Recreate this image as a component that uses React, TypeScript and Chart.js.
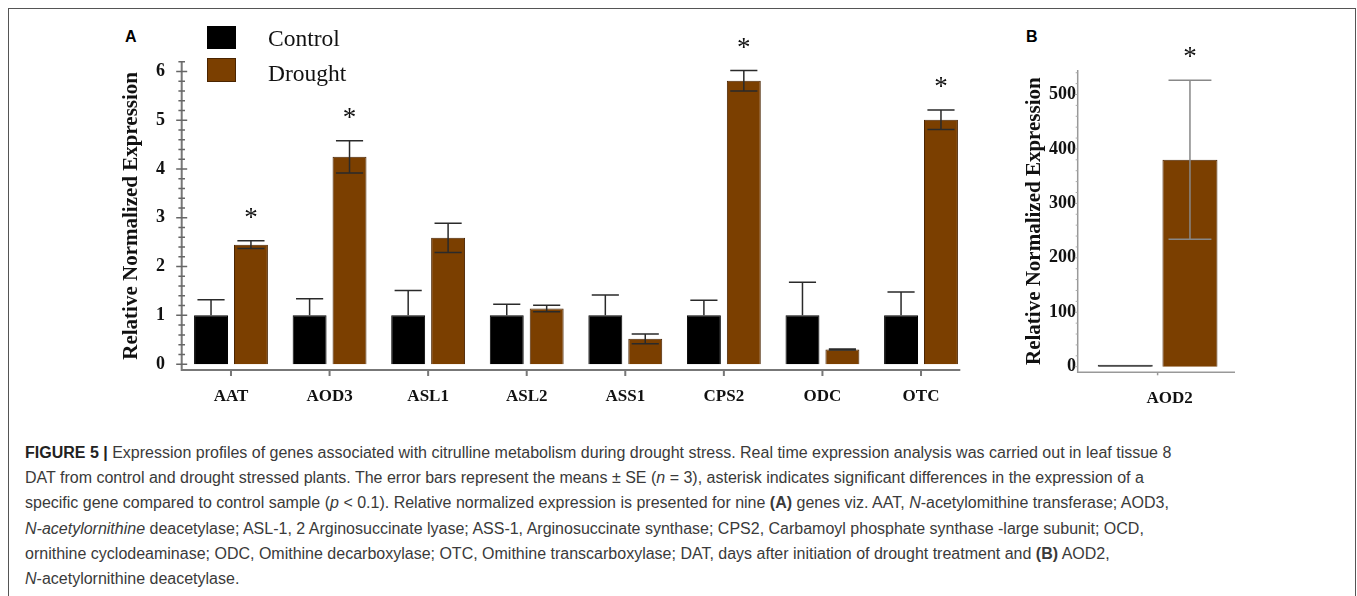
import React, { useEffect, useRef } from "react";
import { Chart, registerables } from "chart.js";

Chart.register(...registerables);

// ---------- data (panel A) ----------
const genesA = ["AAT", "AOD3", "ASL1", "ASL2", "ASS1", "CPS2", "ODC", "OTC"];
const controlA = [1, 1, 1, 1, 1, 1, 1, 1];
const controlErrA = [0.32, 0.34, 0.51, 0.23, 0.42, 0.31, 0.68, 0.48];
const droughtA = [2.45, 4.25, 2.59, 1.14, 0.52, 5.81, 0.3, 5.01];
const droughtErrA = [0.08, 0.33, 0.3, 0.065, 0.1, 0.21, 0.012, 0.2];
const sigA = [true, true, false, false, false, true, false, true];
const yTicksA = [0, 1, 2, 3, 4, 5, 6];

// ---------- data (panel B) ----------
const genesB = ["AOD2"];
const controlB = [1];
const controlErrB = [0];
const droughtB = [380];
const droughtErrB = [146];
const sigB = [true];
const yTicksB = [0, 100, 200, 300, 400, 500];

const seriesNames = ["Control", "Drought"];
const yTitle = "Relative Normalized Expression";

const BROWN = "#7b3f00";
const BROWN_EDGE = "#4a2400";
const SERIF = '"Liberation Serif", "Times New Roman", serif';
const SANS = '"Liberation Sans", Arial, Helvetica, sans-serif';

const figurePlugin = {
  id: "figurePlugin",
  afterDatasetsDraw(chart: any, _args: any, o: any) {
    const ctx = chart.ctx;
    const a = chart.chartArea;
    const xs = chart.scales.x;
    const ys = chart.scales.y;
    ctx.save();
    // error bars (control bars are opaque black, so only the upper whisker shows)
    o.errors.forEach((errs: number[], d: number) => {
      const meta = chart.getDatasetMeta(d);
      const vals = chart.data.datasets[d].data;
      ctx.strokeStyle = o.errColor;
      ctx.lineWidth = o.errWidth;
      meta.data.forEach((bar: any, j: number) => {
        const e = errs[j];
        if (!e) return;
        const v = vals[j];
        const yt = ys.getPixelForValue(v + e);
        const yb = ys.getPixelForValue(v - e);
        const yv = ys.getPixelForValue(v);
        const hw = (bar.width * o.capFrac) / 2;
        ctx.beginPath();
        ctx.moveTo(bar.x - hw, yt);
        ctx.lineTo(bar.x + hw, yt);
        ctx.moveTo(bar.x, yt);
        if (d === 0) {
          ctx.lineTo(bar.x, yv);
        } else {
          ctx.lineTo(bar.x, yb);
          ctx.moveTo(bar.x - hw, yb);
          ctx.lineTo(bar.x + hw, yb);
        }
        ctx.stroke();
      });
    });
    // asterisks (drought series)
    const dMeta = chart.getDatasetMeta(1);
    const dVals = chart.data.datasets[1].data;
    ctx.fillStyle = "#111";
    ctx.font = `${o.starSize}px ${SERIF}`;
    ctx.textAlign = "center";
    ctx.textBaseline = "middle";
    o.sig.forEach((s: boolean, j: number) => {
      if (!s) return;
      const bar = dMeta.data[j];
      const top = ys.getPixelForValue(dVals[j] + o.errors[1][j]);
      ctx.fillText("*", bar.x, top - o.starGap);
    });
    // axes lines
    ctx.strokeStyle = o.axisColor;
    ctx.lineWidth = o.axisWidth;
    ctx.beginPath();
    ctx.moveTo(a.left, a.top);
    ctx.lineTo(a.left, a.bottom);
    ctx.lineTo(a.right - o.xAxisInset, a.bottom);
    ctx.stroke();
    // y ticks
    ctx.strokeStyle = o.tickColor;
    ctx.lineWidth = o.tickWidth;
    const majors: number[] = o.majorTicks;
    const step = o.minorStep;
    const nMinor = Math.floor(ys.max / step + 1e-6);
    ctx.beginPath();
    for (let k = 0; k <= nMinor; k++) {
      const v = k * step;
      const isMajor = majors.some((m) => Math.abs(m - v) < step / 10);
      const y = ys.getPixelForValue(v);
      if (isMajor) {
        ctx.moveTo(a.left - o.majorLeft, y);
        ctx.lineTo(a.left + o.majorRight, y);
      } else {
        ctx.moveTo(a.left - o.minorLeft, y);
        ctx.lineTo(a.left + o.minorRight, y);
      }
    }
    ctx.stroke();
    // x ticks
    ctx.lineWidth = o.axisWidth;
    ctx.strokeStyle = o.axisColor;
    ctx.beginPath();
    chart.data.labels.forEach((_l: string, i: number) => {
      const x = xs.getPixelForValue(i);
      ctx.moveTo(x, a.bottom);
      ctx.lineTo(x, a.bottom + o.xTickLen);
    });
    ctx.stroke();
    ctx.restore();
  },
};

function makeChart(
  canvas: HTMLCanvasElement,
  labels: string[],
  ctrl: number[],
  drt: number[],
  errs: number[][],
  sig: boolean[],
  ticks: number[],
  cfg: any
) {
  return new Chart(canvas, {
    type: "bar",
    data: {
      labels,
      datasets: [
        {
          label: seriesNames[0],
          data: ctrl,
          backgroundColor: "#000",
          borderColor: cfg.ctrlEdge,
          borderWidth: 1,
          minBarLength: 2,
        },
        {
          label: seriesNames[1],
          data: drt,
          backgroundColor: BROWN,
          borderColor: BROWN_EDGE,
          borderWidth: 1,
        },
      ],
    },
    options: {
      responsive: false,
      animation: false,
      devicePixelRatio: 1,
      layout: { padding: cfg.padding },
      datasets: { bar: { categoryPercentage: 0.81, barPercentage: 0.85 } },
      plugins: {
        legend: { display: false },
        tooltip: { enabled: false },
        figurePlugin: {
          errors: errs,
          sig,
          majorTicks: ticks,
          ...cfg.plug,
        },
      } as any,
      scales: {
        x: {
          grid: { display: false, drawTicks: false },
          border: { display: false },
          ticks: {
            font: { family: SERIF, size: 17, weight: "bold" },
            color: "#111",
            padding: cfg.xPad,
            labelOffset: cfg.xLabelOffset,
            maxRotation: 0,
            autoSkip: false,
          },
          afterFit: (s: any) => {
            s.height = cfg.xHeight;
          },
        },
        y: {
          min: cfg.yMin,
          max: cfg.yMax,
          afterBuildTicks: (s: any) => {
            s.ticks = ticks.map((v) => ({ value: v }));
          },
          grid: { display: false, drawTicks: false },
          border: { display: false },
          ticks: {
            font: { family: SERIF, size: 18, weight: "bold" },
            color: "#111",
            padding: cfg.yPad,
          },
          title: {
            display: true,
            text: yTitle,
            font: { family: SERIF, size: 21, weight: "bold" },
            color: "#111",
            padding: { top: cfg.titlePad, bottom: 0 },
          },
          afterFit: (s: any) => {
            s.width = cfg.yWidth;
          },
        },
      },
    },
    plugins: [figurePlugin as any],
  });
}

export default function App() {
  const refA = useRef<HTMLCanvasElement>(null);
  const refB = useRef<HTMLCanvasElement>(null);

  useEffect(() => {
    const cA = makeChart(
      refA.current!,
      genesA,
      controlA,
      droughtA,
      [controlErrA, droughtErrA],
      sigA,
      yTicksA,
      {
        ctrlEdge: "#000",
        padding: { top: 41.7, right: 19.7, left: 0, bottom: 0 },
        xHeight: 50,
        yWidth: 81.7,
        yMin: -0.12,
        yMax: 6.2,
        xPad: 16.5,
        xLabelOffset: 0,
        yPad: 16.7,
        titlePad: 19,
        plug: {
          errColor: "#2a2a2a",
          errWidth: 1.5,
          capFrac: 0.8,
          starSize: 27,
          starGap: 22,
          axisColor: "#777",
          axisWidth: 2,
          xAxisInset: 10,
          tickColor: "#666",
          tickWidth: 1.5,
          minorStep: 0.2,
          majorLeft: 5.5,
          majorRight: 5.5,
          minorLeft: 3.3,
          minorRight: 3.3,
          xTickLen: 6,
        },
      }
    );
    const cB = makeChart(
      refB.current!,
      genesB,
      controlB,
      droughtB,
      [controlErrB, droughtErrB],
      sigB,
      yTicksB,
      {
        ctrlEdge: "#333",
        padding: { top: 50, right: 12.5, left: 0, bottom: 0 },
        xHeight: 47.7,
        yWidth: 77.7,
        yMin: -10.3,
        yMax: 545,
        xPad: 16.5,
        xLabelOffset: 12,
        yPad: 1.7,
        titlePad: 22,
        plug: {
          errColor: "#888",
          errWidth: 1.5,
          capFrac: 0.78,
          starSize: 27,
          starGap: 22,
          axisColor: "#999",
          axisWidth: 1.5,
          xAxisInset: 2.5,
          tickColor: "#aaa",
          tickWidth: 1,
          minorStep: 20,
          majorLeft: 3,
          majorRight: 0,
          minorLeft: 2,
          minorRight: 0,
          xTickLen: 3,
        },
      }
    );
    return () => {
      cA.destroy();
      cB.destroy();
    };
  }, []);

  const capStyle: React.CSSProperties = {
    position: "absolute",
    left: 25,
    top: 440,
    fontFamily: SANS,
    fontSize: 16,
    lineHeight: "25.2px",
    color: "#3a3a3a",
    whiteSpace: "nowrap",
  };

  return (
    <div
      style={{
        position: "fixed",
        left: 0,
        top: 0,
        width: 1357,
        height: 596,
        overflow: "hidden",
        background: "#fff",
      }}
    >
      <div
        style={{
          position: "absolute",
          left: 8,
          top: 8,
          width: 1346,
          height: 620,
          border: "1px solid #555",
          boxSizing: "content-box",
        }}
      />
      {/* panel letters */}
      <div style={{ position: "absolute", left: 125, top: 28.5, font: `bold 16px/16px ${SANS}`, color: "#000" }}>A</div>
      <div style={{ position: "absolute", left: 1026, top: 28.5, font: `bold 16px/16px ${SANS}`, color: "#000" }}>B</div>

      <canvas
        ref={refA}
        width={890}
        height={400}
        style={{ position: "absolute", left: 100, top: 20, width: 890, height: 400 }}
      />
      <canvas
        ref={refB}
        width={250}
        height={400}
        style={{ position: "absolute", left: 1000, top: 20, width: 250, height: 400 }}
      />

      {/* legend */}
      <div style={{ position: "absolute", left: 207, top: 26, width: 29, height: 23, background: "#000" }} />
      <div
        style={{
          position: "absolute",
          left: 207,
          top: 58,
          width: 27,
          height: 22,
          background: BROWN,
          border: `1px solid ${BROWN_EDGE}`,
        }}
      />
      <div style={{ position: "absolute", left: 268, top: 27, font: `23.5px/23.5px ${SERIF}`, color: "#111" }}>
        {seriesNames[0]}
      </div>
      <div style={{ position: "absolute", left: 268, top: 62, font: `23.5px/23.5px ${SERIF}`, color: "#111" }}>
        {seriesNames[1]}
      </div>

      {/* caption */}
      <div style={capStyle}>
        <div>
          <b style={{ color: "#222" }}>FIGURE 5 |</b> Expression profiles of genes associated with citrulline metabolism
          during drought stress. Real time expression analysis was carried out in leaf tissue 8
        </div>
        <div>
          DAT from control and drought stressed plants. The error bars represent the means ± SE (<i>n</i> = 3),
          asterisk indicates significant differences in the expression of a
        </div>
        <div>
          specific gene compared to control sample (<i>p</i> &lt; 0.1). Relative normalized expression is presented for
          nine <b>(A)</b> genes viz. AAT, <i>N</i>-acetylomithine transferase; AOD3,
        </div>
        <div>
          <i>N-acetylornithine</i> deacetylase; ASL-1, 2 Arginosuccinate lyase; ASS-1, Arginosuccinate synthase; CPS2,
          Carbamoyl phosphate synthase -large subunit; OCD,
        </div>
        <div>
          ornithine cyclodeaminase; ODC, Omithine decarboxylase; OTC, Omithine transcarboxylase; DAT, days after
          initiation of drought treatment and <b>(B)</b> AOD2,
        </div>
        <div>
          <i>N</i>-acetylornithine deacetylase.
        </div>
      </div>
    </div>
  );
}
